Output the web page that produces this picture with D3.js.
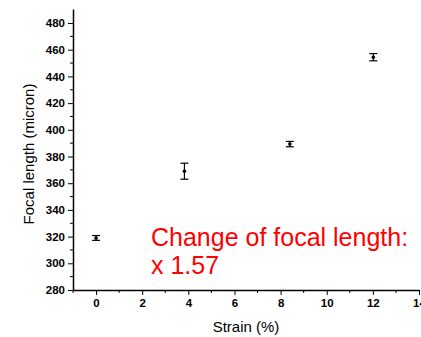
<!DOCTYPE html>
<html><head><meta charset="utf-8">
<script src="https://cdnjs.cloudflare.com/ajax/libs/d3/7.8.5/d3.min.js"></script>
<style>body{margin:0;background:#fff}svg{display:block}text{font-family:Arial,"Liberation Sans",sans-serif}</style>
</head><body><svg id="c" width="421" height="337"></svg>
<script>
const strain = [0, 3.83, 8.4, 12.02];
const focal = [319, 369, 389.3, 454.4];
const err = [1.8, 6, 2, 2.7];
const xTicks = [0, 2, 4, 6, 8, 10, 12, 14];
const yTicks = [280, 300, 320, 340, 360, 380, 400, 420, 440, 460, 480];
const xTitle = "Strain (%)";
const yTitle = "Focal length (micron)";
const note = ["Change of focal length:", "x 1.57"];

const svg = d3.select("#c");
const m = {l: 73, r: 2, t: 9, b: 47};
const x = d3.scaleLinear().domain([-1, 14]).range([m.l, 419]);
const y = d3.scaleLinear().domain([280, 490.5]).range([290, m.t]);

// minor ticks
const xMinor = d3.range(-1, 14, 2);
const yMinor = d3.range(290, 490, 20);
svg.append("g").selectAll("line").data(xMinor).join("line")
  .attr("x1", d => x(d)).attr("x2", d => x(d)).attr("y1", 290).attr("y2", 293)
  .attr("stroke", "#000").attr("stroke-width", 1);
svg.append("g").selectAll("line").data(yMinor).join("line")
  .attr("y1", d => y(d)).attr("y2", d => y(d)).attr("x1", m.l).attr("x2", m.l - 3)
  .attr("stroke", "#000").attr("stroke-width", 1);

const xAxis = d3.axisBottom(x).tickValues(xTicks).tickSize(5).tickPadding(4).tickSizeOuter(0);
const gx = svg.append("g").attr("transform", "translate(0,290)").call(xAxis);
const yAxis = d3.axisLeft(y).tickValues(yTicks).tickSize(5).tickPadding(3).tickSizeOuter(0);
const gy = svg.append("g").attr("transform", `translate(${m.l},0)`).call(yAxis);
[gx, gy].forEach(g => {
  g.selectAll("path").attr("stroke", "#000").attr("stroke-width", 1.5);
  g.selectAll("line").attr("stroke", "#000").attr("stroke-width", 1);
  g.selectAll("text").attr("font-size", 11.5).attr("font-weight", "bold").attr("fill", "#000")
    .style("font-family", 'Arial,"Liberation Sans",sans-serif');
});

svg.append("text").attr("x", (m.l + 419) / 2).attr("y", 332).attr("text-anchor", "middle")
  .attr("font-size", 15).text(xTitle);
svg.append("text").attr("transform", `translate(33.5,154) rotate(-90)`)
  .attr("text-anchor", "middle").attr("font-size", 15).text(yTitle);

// error bars
const pts = strain.map((s, i) => ({s, f: focal[i], e: err[i]}));
const g = svg.append("g").attr("stroke", "#000").attr("stroke-width", 1.2);
pts.forEach(p => {
  const cx = x(p.s);
  g.append("line").attr("x1", cx).attr("x2", cx).attr("y1", y(p.f + p.e)).attr("y2", y(p.f - p.e));
  g.append("line").attr("x1", cx - 4).attr("x2", cx + 4).attr("y1", y(p.f + p.e)).attr("y2", y(p.f + p.e));
  g.append("line").attr("x1", cx - 4).attr("x2", cx + 4).attr("y1", y(p.f - p.e)).attr("y2", y(p.f - p.e));
});
svg.append("g").selectAll("circle").data(pts).join("circle")
  .attr("cx", d => x(d.s)).attr("cy", d => y(d.f)).attr("r", 1.8).attr("fill", "#000");

svg.append("g").selectAll("text").data(note).join("text")
  .attr("x", 151).attr("y", (d, i) => 245.5 + i * 28.7).attr("font-size", 25).attr("fill", "#ff0000")
  .text(d => d);
</script></body></html>
